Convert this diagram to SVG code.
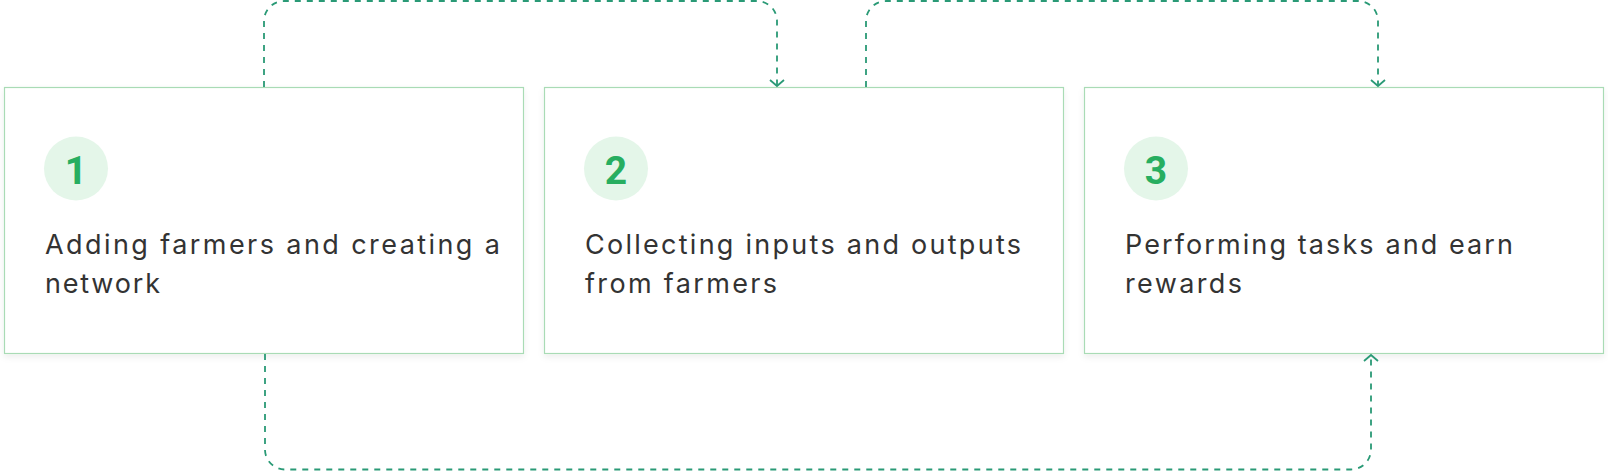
<svg xmlns="http://www.w3.org/2000/svg" width="1608" height="471" viewBox="0 0 1608 471">
  <defs>
    <style>
      .box { fill: #ffffff; stroke: #a9dbb5; stroke-width: 1.2; }
      .badge { fill: #e4f6e9; }
      .num { font-family: Roboto, "Liberation Sans", sans-serif; font-weight: 700; font-size: 39px; fill: #27ae60; text-anchor: middle; }
      .label { font-family: Inter, "Liberation Sans", sans-serif; font-size: 27px; fill: #333333; }
      .conn { fill: none; stroke: #2a9a76; stroke-width: 1.8; stroke-dasharray: 6 6; }
    </style>
    <filter id="shadow" x="-5%" y="-5%" width="110%" height="115%">
      <feDropShadow dx="0" dy="3" stdDeviation="3" flood-color="#000000" flood-opacity="0.07"/>
    </filter>
    <marker id="chev" markerUnits="userSpaceOnUse" markerWidth="20" markerHeight="20" viewBox="-10 -10 20 20" refX="0" refY="0" orient="auto">
      <path d="M-6,-7 L0,0 L-6,7" fill="none" stroke="#2a9a76" stroke-width="1.8" stroke-dasharray="none"/>
    </marker>
  </defs>
  <rect width="1608" height="471" fill="#ffffff"/>

  <g id="node1">
    <rect class="box" x="4.5" y="87.5" width="519" height="266" filter="url(#shadow)"/>
    <circle class="badge" cx="76" cy="168.5" r="32"/>
    <text class="num" x="76" y="184">1</text>
    <text class="label" x="45" y="253.5" textLength="455" lengthAdjust="spacing">Adding farmers and creating a</text>
    <text class="label" x="45" y="292.5" textLength="115" lengthAdjust="spacing">network</text>
  </g>

  <g id="node2">
    <rect class="box" x="544.5" y="87.5" width="519" height="266" filter="url(#shadow)"/>
    <circle class="badge" cx="616" cy="168.5" r="32"/>
    <text class="num" x="616" y="184">2</text>
    <text class="label" x="585" y="253.5" textLength="436" lengthAdjust="spacing">Collecting inputs and outputs</text>
    <text class="label" x="585" y="292.5" textLength="192" lengthAdjust="spacing">from farmers</text>
  </g>

  <g id="node3">
    <rect class="box" x="1084.5" y="87.5" width="519" height="266" filter="url(#shadow)"/>
    <circle class="badge" cx="1156" cy="168.5" r="32"/>
    <text class="num" x="1156" y="184">3</text>
    <text class="label" x="1125" y="253.5" textLength="388" lengthAdjust="spacing">Performing tasks and earn</text>
    <text class="label" x="1125" y="292.5" textLength="117" lengthAdjust="spacing">rewards</text>
  </g>

  <g id="connectors">
    <path class="conn" d="M264 87 V21 A20 20 0 0 1 284 1 H757 A20 20 0 0 1 777 21 V86" marker-end="url(#chev)"/>
    <path class="conn" d="M866 87 V21 A20 20 0 0 1 886 1 H1358 A20 20 0 0 1 1378 21 V86" marker-end="url(#chev)"/>
    <path class="conn" d="M265 354 V450 A20 20 0 0 0 285 469.5 H1351 A20 20 0 0 0 1371 449.5 V355" marker-end="url(#chev)"/>
  </g>
</svg>
